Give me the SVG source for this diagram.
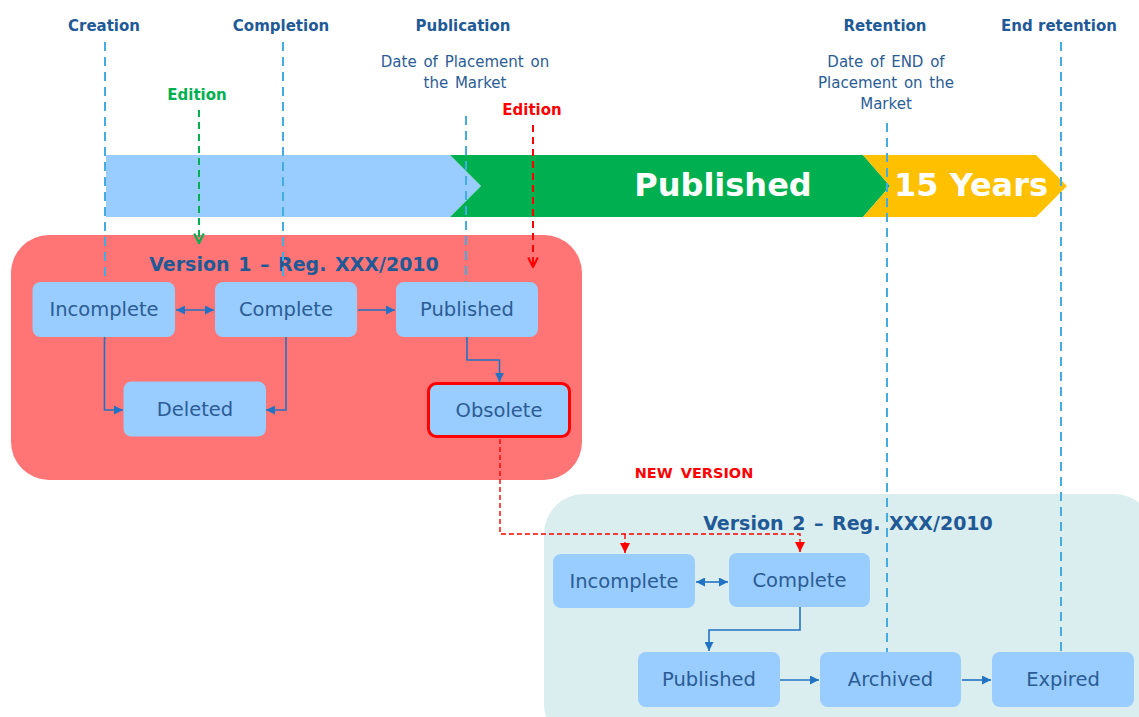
<svg xmlns="http://www.w3.org/2000/svg" width="1139" height="717" viewBox="0 0 1139 717">
<defs>
<style>
.lbl{font-family:"DejaVu Sans",Verdana,sans-serif;font-weight:bold;font-size:15px;fill:#1F5A96;text-anchor:middle}
.sub{font-family:"DejaVu Sans",Verdana,sans-serif;font-size:15px;fill:#2B5C95;text-anchor:middle;word-spacing:2px}
.big{font-family:"DejaVu Sans",Verdana,sans-serif;font-weight:bold;font-size:32px;fill:#FFFFFF;text-anchor:middle}
.title{font-family:"DejaVu Sans",Verdana,sans-serif;font-weight:bold;font-size:19px;fill:#1F5A96;text-anchor:middle;word-spacing:2px}
.box{fill:#99CCFF}
.nt{font-family:"DejaVu Sans",Verdana,sans-serif;font-size:19.5px;fill:#2B5C95;text-anchor:middle}
.tl{fill:none;stroke:#45ACE2;stroke-width:2;stroke-dasharray:9 6}
.cn{fill:none;stroke:#2272C3;stroke-width:1.6}
.rd{fill:none;stroke:#FF0000;stroke-width:1.4;stroke-dasharray:5 3}
</style>
<marker id="ah" viewBox="0 0 10 10" refX="10" refY="5" markerWidth="9" markerHeight="9" markerUnits="userSpaceOnUse" orient="auto-start-reverse">
<path d="M0,0 L10,5 L0,10 Z" fill="#2272C3"/>
</marker>
<marker id="ahr" viewBox="0 0 10 10" refX="10" refY="5" markerWidth="10" markerHeight="10" markerUnits="userSpaceOnUse" orient="auto">
<path d="M0,0 L10,5 L0,10 Z" fill="#FF0000"/>
</marker>
<marker id="vg" viewBox="0 0 10 10" refX="9" refY="5" markerWidth="12" markerHeight="12" markerUnits="userSpaceOnUse" orient="auto">
<path d="M1,1 L9,5 L1,9" fill="none" stroke="#00B050" stroke-width="1.8"/>
</marker>
<marker id="vr" viewBox="0 0 10 10" refX="9" refY="5" markerWidth="12" markerHeight="12" markerUnits="userSpaceOnUse" orient="auto">
<path d="M1,1 L9,5 L1,9" fill="none" stroke="#FF0000" stroke-width="1.8"/>
</marker>
</defs>
<rect width="1139" height="717" fill="#FFFFFF"/>

<g id="timeline-labels">
<text class="lbl" x="104" y="31">Creation</text>
<text class="lbl" x="281" y="31">Completion</text>
<text class="lbl" x="463" y="31">Publication</text>
<text class="lbl" x="885" y="31">Retention</text>
<text class="lbl" x="1059" y="31">End retention</text>
<text class="sub" x="465" y="67">Date of Placement on</text>
<text class="sub" x="465" y="88">the Market</text>
<text class="sub" x="886" y="67">Date of END of</text>
<text class="sub" x="886" y="88">Placement on the</text>
<text class="sub" x="886" y="109">Market</text>
<text class="lbl" x="197" y="100" style="fill:#00B050">Edition</text>
<text class="lbl" x="532" y="115" style="fill:#FF0000">Edition</text>
</g>

<g id="banner">
<polygon points="106,155 450,155 481,186 450,217 106,217" fill="#99CCFF"/>
<polygon points="450,155 863,155 890,186 863,217 450,217 481,186" fill="#00B050"/>
<polygon points="863,155 1036,155 1067,186 1036,217 863,217 890,186" fill="#FFC000"/>
<text class="big" x="723" y="196">Published</text>
<text class="big" x="971" y="196">15 Years</text>
</g>

<g id="version1">
<rect x="11" y="235" width="571" height="245" rx="38" fill="#FF7575"/>
<text class="title" x="294" y="271">Version 1 – Reg. XXX/2010</text>
</g>

<g id="version2">
<rect x="544" y="494" width="610" height="250" rx="40" fill="#DAEDEF"/>
<text class="title" x="848" y="530">Version 2 – Reg. XXX/2010</text>
</g>

<text class="lbl" x="694" y="478" style="fill:#FF0000;font-size:14.5px;word-spacing:3px">NEW VERSION</text>

<g id="connectors">
<path class="tl" d="M105,42 V282"/>
<path class="tl" d="M283,42 V282"/>
<path class="tl" d="M466,116 V282"/>
<path class="tl" d="M887,123 V652"/>
<path class="tl" d="M1061,42 V652"/>
<path d="M199,110 V243" fill="none" stroke="#00B050" stroke-width="2" stroke-dasharray="7 5" marker-end="url(#vg)"/>
<path d="M533,125 V267" fill="none" stroke="#FF0000" stroke-width="2" stroke-dasharray="7 5" marker-end="url(#vr)"/>
<path class="cn" d="M176,310 H214" marker-start="url(#ah)" marker-end="url(#ah)"/>
<path class="cn" d="M358,310 H395" marker-end="url(#ah)"/>
<path class="cn" d="M104.5,337 V410 H123" marker-end="url(#ah)"/>
<path class="cn" d="M286,337 V410 H266" marker-end="url(#ah)"/>
<path class="cn" d="M467,337 V360 H499.5 V382" marker-end="url(#ah)"/>
<path class="rd" d="M500,439 V534 H800 V552" marker-end="url(#ahr)"/>
<path class="rd" d="M625,534 V553" marker-end="url(#ahr)"/>
<path class="cn" d="M696,582 H728" marker-start="url(#ah)" marker-end="url(#ah)"/>
<path class="cn" d="M800,607 V630 H709 V651" marker-end="url(#ah)"/>
<path class="cn" d="M780,680 H819" marker-end="url(#ah)"/>
<path class="cn" d="M962,680 H991" marker-end="url(#ah)"/>
</g>

<g id="v1-incomplete"><rect class="box" x="32.5" y="282" width="142.5" height="55" rx="8"/><text class="nt" x="104" y="316">Incomplete</text></g>
<g id="v1-complete"><rect class="box" x="215" y="282" width="142" height="55" rx="8"/><text class="nt" x="286" y="316">Complete</text></g>
<g id="v1-published"><rect class="box" x="396" y="282" width="142" height="55" rx="8"/><text class="nt" x="467" y="316">Published</text></g>
<g id="v1-deleted"><rect class="box" x="123.5" y="381.5" width="142.5" height="55" rx="8"/><text class="nt" x="195" y="415.5">Deleted</text></g>
<g id="v1-obsolete"><rect class="box" x="428.5" y="383.5" width="141" height="53" rx="8" stroke="#FF0000" stroke-width="3"/><text class="nt" x="499" y="416.5">Obsolete</text></g>

<g id="v2-incomplete"><rect class="box" x="553" y="554" width="142" height="54" rx="8"/><text class="nt" x="624" y="588">Incomplete</text></g>
<g id="v2-complete"><rect class="box" x="729" y="553" width="141" height="54" rx="8"/><text class="nt" x="799.5" y="587">Complete</text></g>
<g id="v2-published"><rect class="box" x="638" y="652" width="142" height="55" rx="8"/><text class="nt" x="709" y="686">Published</text></g>
<g id="v2-archived"><rect class="box" x="820" y="652" width="141" height="55" rx="8"/><text class="nt" x="890.5" y="686">Archived</text></g>
<g id="v2-expired"><rect class="box" x="992" y="652" width="142" height="55" rx="8"/><text class="nt" x="1063" y="686">Expired</text></g>
</svg>
